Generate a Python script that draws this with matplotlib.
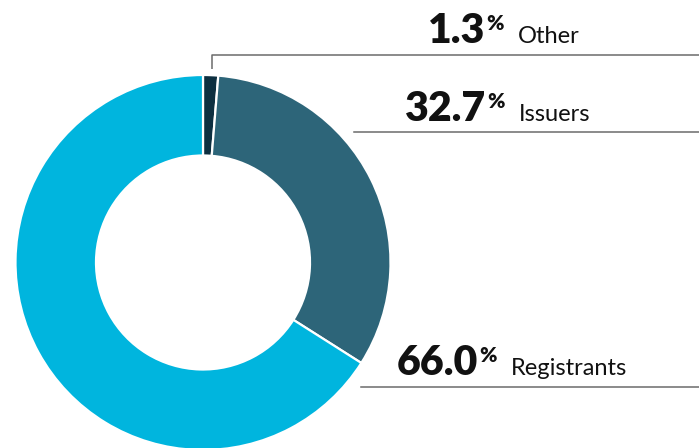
import matplotlib.pyplot as plt

labels = ["Other", "Issuers", "Registrants"]
shares = [1.3, 32.7, 66.0]
colors = ["#0d2f40", "#2d6579", "#00b5de"]

W, H = 699, 448
fig = plt.figure(figsize=(W / 100, H / 100), dpi=100)
ax = fig.add_axes([0, 0, 1, 1])

# donut, first slice starts at 12 o'clock and runs clockwise
ax.pie(shares, colors=colors, startangle=90, counterclock=False,
       center=(203, H - 262.5), radius=187.5,
       wedgeprops=dict(width=80.5, edgecolor="white", linewidth=1.6))

ax.set_xlim(0, W)
ax.set_ylim(0, H)
ax.set_aspect("equal")
ax.axis("off")

# leader lines (pixel coords from top)
line_col = "#6b6b6b"
ax.plot([211.5, 211.5, W], [H - 69, H - 54.5, H - 54.5], color=line_col, lw=1.1, solid_capstyle="butt")
ax.plot([354, W], [H - 132, H - 132], color=line_col, lw=1.1)
ax.plot([361, W], [H - 387.5, H - 387.5], color=line_col, lw=1.1)

# label positions: left x of number, baseline y
label_pos = [(428, 43), (405, 121), (397, 375)]

fig.canvas.draw()
renderer = fig.canvas.get_renderer()
inv = ax.transData.inverted()

for lab, val, (x, yb) in zip(labels, shares, label_pos):
    num = ax.text(x, H - yb, f"{val:.1f}", fontsize=29.5, fontweight="heavy",
                  family="Lato", color="#111111", ha="left", va="baseline")
    bb = num.get_window_extent(renderer)
    x1 = inv.transform((bb.x1, bb.y1))[0]
    pct = ax.text(x1 + 1, H - yb + 13, "%", fontsize=15, fontweight="heavy",
                  family="Lato", color="#111111", ha="left", va="baseline")
    bb2 = pct.get_window_extent(renderer)
    x2 = inv.transform((bb2.x1, bb2.y1))[0]
    ax.text(x2 + 14, H - yb, lab, fontsize=17, family="Lato",
            color="#111111", ha="left", va="baseline")

fig.savefig("out.png", dpi=100)
